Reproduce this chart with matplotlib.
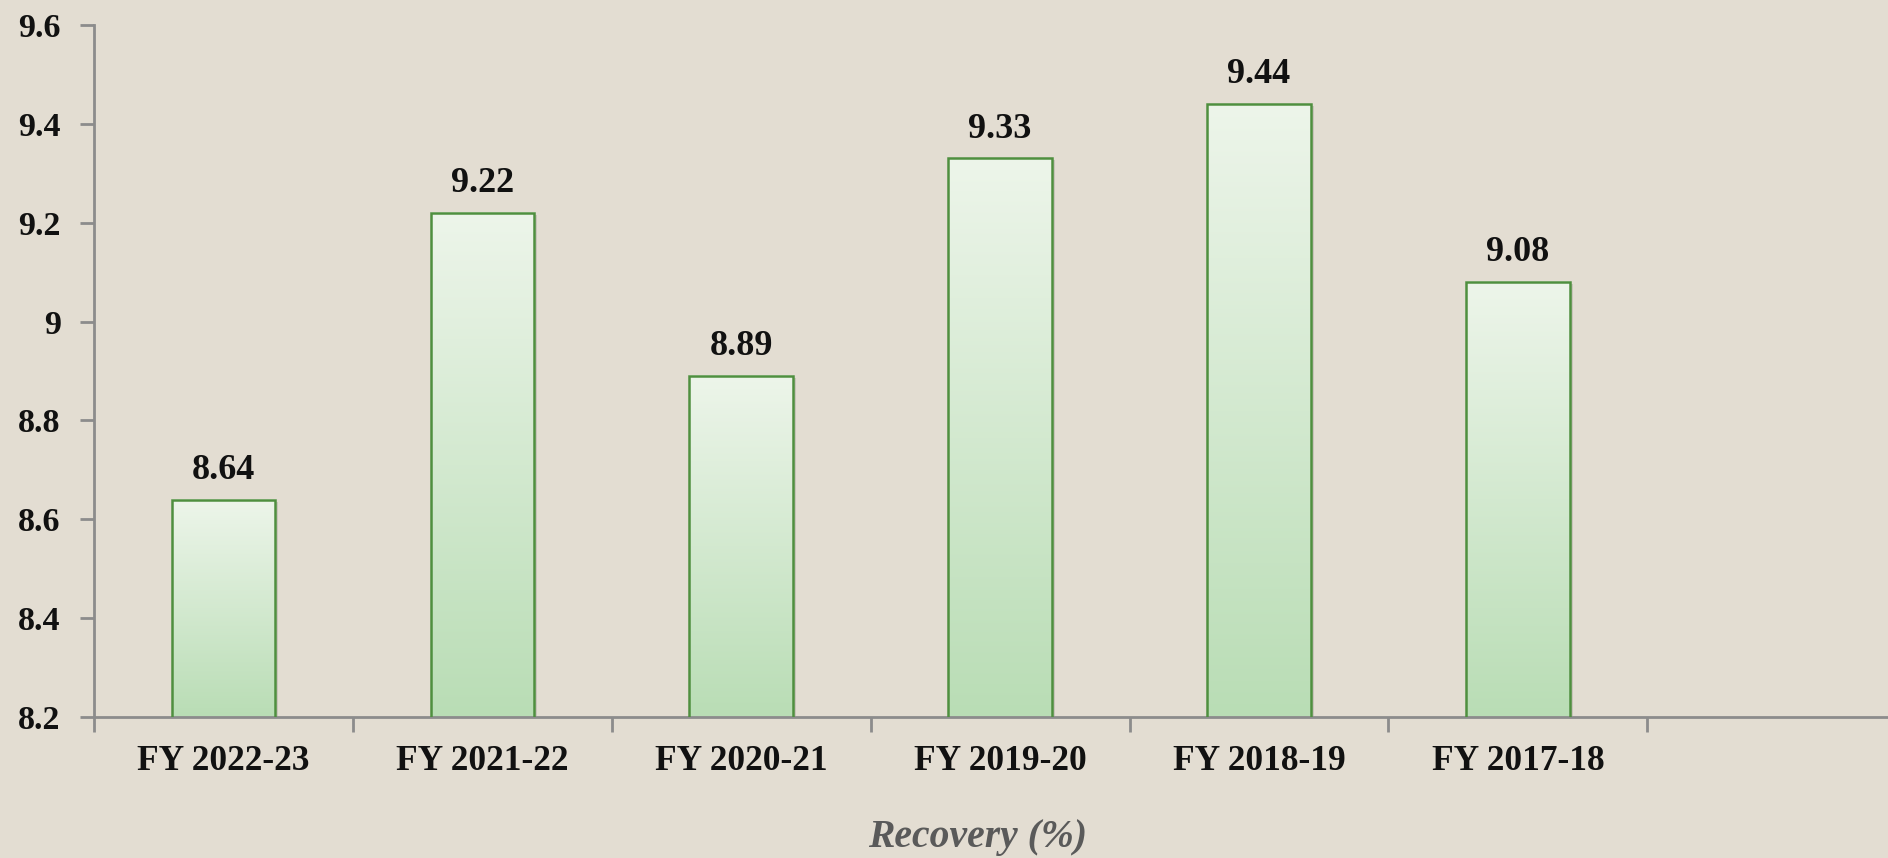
import matplotlib
matplotlib.use("Agg")
import matplotlib.pyplot as plt
import numpy as np
from matplotlib.colors import LinearSegmentedColormap

categories = ["FY 2022-23", "FY 2021-22", "FY 2020-21", "FY 2019-20", "FY 2018-19", "FY 2017-18"]
values = [8.64, 9.22, 8.89, 9.33, 9.44, 9.08]
yticks = [8.2, 8.4, 8.6, 8.8, 9.0, 9.2, 9.4, 9.6]
ytick_labels = ["8.2", "8.4", "8.6", "8.8", "9", "9.2", "9.4", "9.6"]
title = "Recovery (%)"

bg = "#E3DDD2"
plt.rcParams['font.family'] = ['Liberation Serif', 'DejaVu Serif']

fig = plt.figure(figsize=(18.88, 8.58), dpi=100)
fig.patch.set_facecolor(bg)
ax = fig.add_axes([0.0498, 0.1643, 1 - 0.0498, 0.9709 - 0.1643])
ax.set_facecolor(bg)

x = np.arange(len(categories))
bars = ax.bar(x, values, width=0.4, bottom=0, facecolor="none",
              edgecolor="#4F8F3F", linewidth=1.8, zorder=3)

ax.set_ylim(8.2, 9.6)
ax.set_xlim(-0.5, 6.43)

cmap = LinearSegmentedColormap.from_list("g", ["#B9DDB5", "#EDF5EA"])
grad = np.linspace(0, 1, 256).reshape(-1, 1)
for b in bars:
    x0 = b.get_x()
    w = b.get_width()
    top = b.get_height()
    ax.add_patch(plt.Rectangle((x0 + 0.012, 8.2), w, top - 8.2 - 0.004,
                               facecolor="#9A968E", alpha=0.35, edgecolor="none", zorder=1))
    ax.imshow(grad, extent=[x0, x0 + w, 8.2, top], origin="lower", cmap=cmap,
              aspect="auto", zorder=2, interpolation="bicubic")
    ax.annotate(f"{top:.2f}", (x0 + w / 2, top), xytext=(0, 21), textcoords="offset points",
                ha="center", va="center", fontsize=26, fontweight="bold", color="#111111")

ax.set_xlim(-0.5, 6.43)
ax.set_ylim(8.2, 9.6)

for s in ["top", "right"]:
    ax.spines[s].set_visible(False)
for s in ["left", "bottom"]:
    ax.spines[s].set_color("#8C8C8C")
    ax.spines[s].set_linewidth(2)

ax.set_yticks(yticks)
ax.set_yticklabels(ytick_labels)
ax.tick_params(axis="y", length=10, width=2, color="#8C8C8C", pad=14,
               labelsize=24.5, labelcolor="#111111")
for t in ax.get_yticklabels():
    t.set_fontweight("bold")

ax.set_xticks(x)
ax.set_xticklabels(categories)
ax.tick_params(axis="x", which="major", length=0, pad=20, labelsize=25.5, labelcolor="#111111")
for t in ax.get_xticklabels():
    t.set_fontweight("bold")
ax.set_xticks(np.arange(-0.5, len(categories), 1.0), minor=True)
ax.tick_params(axis="x", which="minor", length=11, width=2, color="#8C8C8C")

fig.text(978 / 1888, 1 - 838 / 858, title, ha="center", va="center", fontsize=28.5,
         fontstyle="italic", fontweight="bold", color="#5A5A5A")

fig.savefig("out.png", dpi=100, facecolor=bg)
